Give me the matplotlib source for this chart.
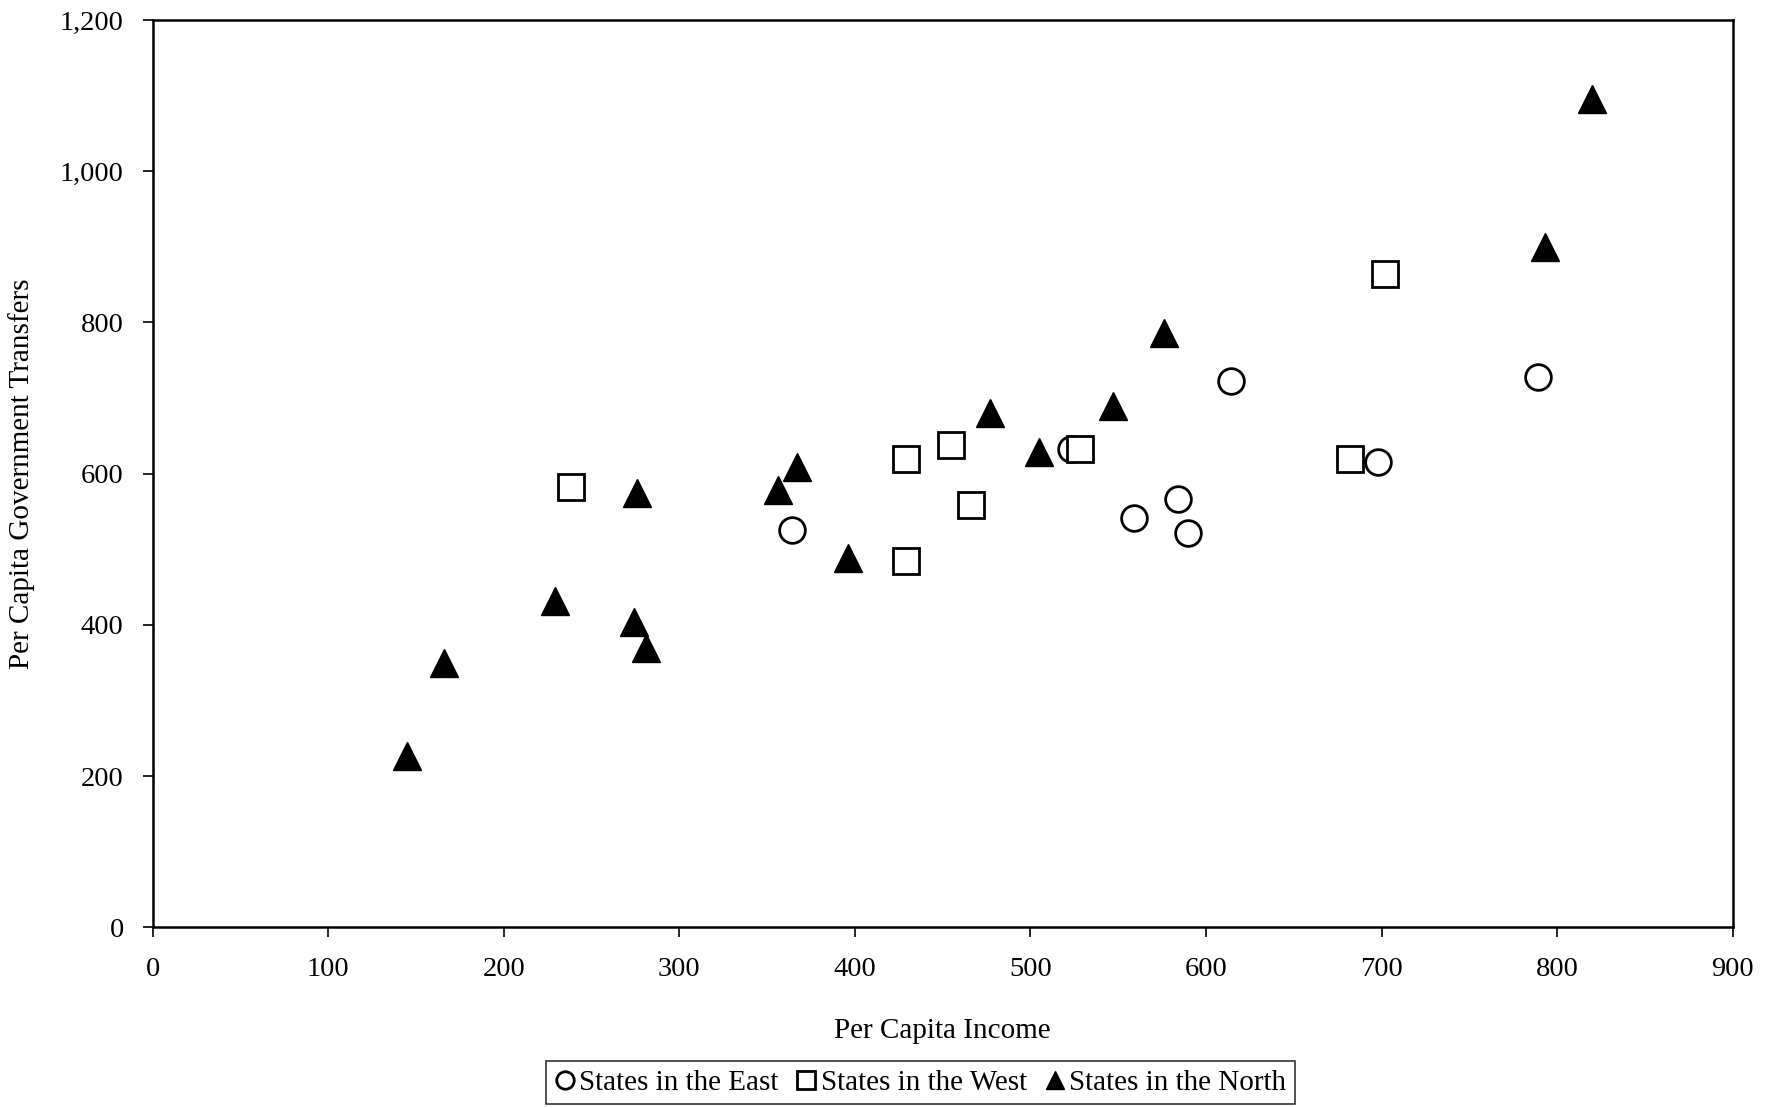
import matplotlib
matplotlib.use("Agg")
import matplotlib.pyplot as plt
from matplotlib.ticker import FuncFormatter

# States in the East (circles)
east_income = [364, 523, 559, 584, 590, 614, 698, 789]
east_transfers = [525, 632, 542, 567, 522, 722, 615, 728]

# States in the West (squares)
west_income = [238, 429, 429, 455, 466, 528, 682, 702]
west_transfers = [582, 620, 485, 638, 558, 632, 620, 864]

# States in the North (filled triangles)
north_income = [145, 166, 229, 274, 281, 276, 356, 367, 396, 477, 505, 547, 576, 793, 820]
north_transfers = [227, 350, 432, 404, 369, 575, 579, 609, 489, 680, 629, 690, 786, 900, 1095]

x_ticks = [0, 100, 200, 300, 400, 500, 600, 700, 800, 900]
y_ticks = [0, 200, 400, 600, 800, 1000, 1200]

plt.rcParams['font.family'] = ['Liberation Serif', 'DejaVu Serif']

fig = plt.figure(figsize=(17.77, 11.08), dpi=100)
ax = fig.add_axes([0.086, 0.163, 0.889, 0.819])

ax.plot(east_income, east_transfers, linestyle='none', marker='o', markersize=18.5,
        markerfacecolor='white', markeredgecolor='black', markeredgewidth=2,
        label='States in the East', zorder=3)
ax.plot(west_income, west_transfers, linestyle='none', marker='s', markersize=18.5,
        markerfacecolor='white', markeredgecolor='black', markeredgewidth=2,
        label='States in the West', zorder=4)
ax.plot(north_income, north_transfers, linestyle='none', marker='^', markersize=20,
        markerfacecolor='black', markeredgecolor='black', markeredgewidth=1,
        label='States in the North', zorder=5)

ax.set_xlim(0, 900)
ax.set_ylim(0, 1200)
ax.set_xticks(x_ticks)
ax.set_yticks(y_ticks)
ax.yaxis.set_major_formatter(FuncFormatter(lambda v, p: f"{int(v):,}"))
ax.tick_params(axis='both', direction='out', length=7, width=1.2, labelsize=20.5, pad=14)

for s in ax.spines.values():
    s.set_linewidth(1.8)
    s.set_color('black')

ax.set_xlabel("Per Capita Income", fontsize=21, labelpad=26)
ax.set_ylabel("Per Capita Government Transfers", fontsize=21, labelpad=18)

leg = fig.legend(loc='lower center', bbox_to_anchor=(0.518, -0.01), ncol=3,
                 fontsize=21, frameon=True, fancybox=False, edgecolor='black',
                 handlelength=0.7, handletextpad=0.15, columnspacing=0.6,
                 borderpad=0.3, markerscale=0.68)
leg.get_frame().set_linewidth(1.2)

fig.savefig("out.png", dpi=100)
